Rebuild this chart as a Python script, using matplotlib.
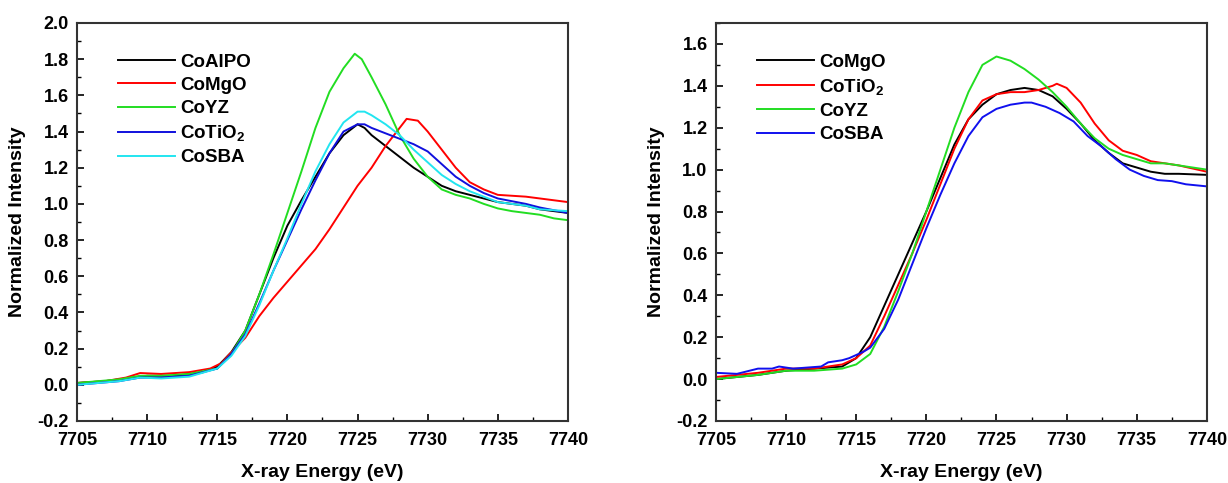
import matplotlib
matplotlib.use('Agg')
import matplotlib.pyplot as plt
from matplotlib.ticker import MultipleLocator

plt.rcParams['font.family'] = ['Liberation Sans', 'DejaVu Sans']
plt.rcParams['font.weight'] = 'bold'
plt.rcParams['mathtext.fontset'] = 'custom'
plt.rcParams['mathtext.rm'] = 'Liberation Sans:bold'
plt.rcParams['mathtext.bf'] = 'Liberation Sans:bold'
plt.rcParams['mathtext.it'] = 'Liberation Sans:bold'

# left panel data
x_alpo = [7705, 7707, 7709, 7710, 7712, 7714, 7715, 7716, 7717, 7718, 7719, 7720, 7721, 7722, 7723, 7724,
          7725, 7725.5, 7726, 7727, 7728, 7729, 7730, 7731, 7732, 7733, 7734, 7735, 7737, 7738, 7740]
y_alpo = [0.01, 0.02, 0.04, 0.05, 0.05, 0.07, 0.10, 0.18, 0.30, 0.50, 0.70, 0.88, 1.02, 1.15, 1.28, 1.38,
          1.44, 1.42, 1.38, 1.32, 1.26, 1.20, 1.15, 1.10, 1.07, 1.05, 1.03, 1.01, 0.99, 0.97, 0.95]

x_mgo = [7705, 7707, 7708.5, 7709.5, 7711, 7713, 7714.5, 7715.3, 7716, 7717, 7718, 7719, 7720, 7721, 7722,
         7723, 7724, 7725, 7726, 7727, 7728, 7728.5, 7729.3, 7730, 7731, 7732, 7733, 7734, 7735, 7737, 7738, 7740]
y_mgo = [0.01, 0.02, 0.04, 0.065, 0.06, 0.07, 0.09, 0.12, 0.18, 0.26, 0.38, 0.48, 0.57, 0.66, 0.75,
         0.86, 0.98, 1.10, 1.20, 1.32, 1.42, 1.47, 1.46, 1.40, 1.30, 1.20, 1.12, 1.08, 1.05, 1.04, 1.03, 1.01]

x_yz = [7705, 7708, 7709.5, 7711, 7713, 7715, 7716, 7717, 7718, 7719, 7720, 7721, 7722, 7723, 7724, 7724.8,
        7725.3, 7726, 7727, 7728, 7729, 7730, 7731, 7732, 7733, 7734, 7735, 7736, 7737, 7738, 7739, 7740]
y_yz = [0.01, 0.03, 0.05, 0.05, 0.06, 0.09, 0.17, 0.30, 0.50, 0.72, 0.95, 1.18, 1.42, 1.62, 1.75, 1.83,
        1.80, 1.70, 1.55, 1.38, 1.25, 1.15, 1.08, 1.05, 1.03, 1.00, 0.975, 0.96, 0.95, 0.94, 0.92, 0.91]

x_tio2 = [7705, 7708, 7709.5, 7711, 7713, 7715, 7716, 7717, 7718, 7719, 7720, 7721, 7722, 7723, 7724,
          7725, 7725.5, 7726, 7727, 7728, 7729, 7730, 7731, 7732, 7733, 7734, 7735, 7737, 7738, 7740]
y_tio2 = [0.00, 0.02, 0.04, 0.04, 0.05, 0.09, 0.17, 0.28, 0.45, 0.63, 0.80, 0.97, 1.13, 1.28, 1.40,
          1.44, 1.44, 1.42, 1.39, 1.36, 1.33, 1.29, 1.22, 1.15, 1.10, 1.06, 1.03, 1.00, 0.98, 0.95]

x_sba = [7705, 7708, 7709.5, 7711, 7713, 7715, 7716, 7717, 7718, 7719, 7720, 7721, 7722, 7723, 7724,
         7725, 7725.5, 7726, 7727, 7728, 7729, 7730, 7731, 7732, 7733, 7734, 7735, 7737, 7738, 7740]
y_sba = [0.00, 0.02, 0.04, 0.035, 0.045, 0.09, 0.16, 0.27, 0.44, 0.63, 0.81, 1.00, 1.18, 1.33, 1.45,
         1.51, 1.51, 1.49, 1.44, 1.38, 1.30, 1.23, 1.16, 1.11, 1.07, 1.04, 1.01, 0.99, 0.97, 0.96]

# right panel data
xr_mgo = [7705, 7708, 7710, 7712, 7714, 7715, 7716, 7717, 7718, 7719, 7720, 7721, 7722, 7723, 7724, 7725,
          7726, 7727, 7728, 7729, 7730, 7731, 7732, 7733, 7734, 7735, 7736, 7737, 7738, 7740]
yr_mgo = [0.00, 0.02, 0.04, 0.05, 0.06, 0.10, 0.20, 0.35, 0.50, 0.65, 0.80, 0.96, 1.12, 1.24, 1.31, 1.36,
          1.38, 1.39, 1.38, 1.35, 1.29, 1.22, 1.14, 1.08, 1.03, 1.01, 0.99, 0.98, 0.98, 0.975]

xr_tio2 = [7705, 7708, 7710, 7712, 7714, 7715, 7716, 7717, 7718, 7719, 7720, 7721, 7722, 7723, 7724, 7725,
           7726, 7727, 7728, 7729, 7729.3, 7730, 7731, 7732, 7733, 7734, 7735, 7736, 7737, 7738, 7740]
yr_tio2 = [0.01, 0.03, 0.05, 0.05, 0.07, 0.10, 0.16, 0.30, 0.45, 0.60, 0.76, 0.93, 1.10, 1.24, 1.33, 1.36,
           1.37, 1.37, 1.38, 1.40, 1.41, 1.39, 1.32, 1.22, 1.14, 1.09, 1.07, 1.04, 1.03, 1.02, 0.99]

xr_yz = [7705, 7708, 7710, 7712, 7714, 7715, 7716, 7717, 7718, 7719, 7720, 7721, 7722, 7723, 7724, 7725,
         7726, 7727, 7728, 7729, 7730, 7731, 7732, 7733, 7734, 7735, 7736, 7737, 7738, 7739, 7740]
yr_yz = [0.00, 0.02, 0.04, 0.04, 0.05, 0.07, 0.12, 0.25, 0.42, 0.60, 0.80, 1.00, 1.20, 1.37, 1.50, 1.54,
         1.52, 1.48, 1.43, 1.37, 1.30, 1.22, 1.15, 1.10, 1.07, 1.05, 1.03, 1.03, 1.02, 1.01, 1.00]

xr_sba = [7705, 7706.5, 7708, 7709, 7709.5, 7710.5, 7711.5, 7712.5, 7713, 7714, 7714.5, 7715.5, 7716,
          7717, 7718, 7719, 7720, 7721, 7722, 7723, 7724, 7725, 7725.5, 7726, 7727, 7727.5,
          7728.5, 7729.5, 7730.5, 7731.5, 7732.5, 7733.5, 7734.5, 7735.5, 7736.5, 7737.5, 7738.5, 7740]
yr_sba = [0.03, 0.025, 0.05, 0.05, 0.06, 0.05, 0.055, 0.06, 0.08, 0.09, 0.10, 0.13, 0.15,
          0.24, 0.38, 0.55, 0.72, 0.88, 1.03, 1.16, 1.25, 1.29, 1.30, 1.31, 1.32, 1.32,
          1.30, 1.27, 1.23, 1.16, 1.11, 1.05, 1.00, 0.97, 0.95, 0.945, 0.93, 0.92]

fig = plt.figure(figsize=(12.28, 4.83), dpi=100)
ax1 = fig.add_axes([0.0627, 0.1284, 0.3998, 0.824])
ax2 = fig.add_axes([0.583, 0.1284, 0.3998, 0.824])

lw = 1.4
ax1.plot(x_alpo, y_alpo, color='black', lw=lw, label='CoAlPO')
ax1.plot(x_mgo, y_mgo, color='#ff0000', lw=lw, label='CoMgO')
ax1.plot(x_yz, y_yz, color='#22dd22', lw=lw, label='CoYZ')
ax1.plot(x_tio2, y_tio2, color='#1010dd', lw=lw, label=r'CoTiO$_\mathrm{2}$')
ax1.plot(x_sba, y_sba, color='#22e5f0', lw=lw, label='CoSBA')

ax2.plot(xr_mgo, yr_mgo, color='black', lw=lw, label='CoMgO')
ax2.plot(xr_tio2, yr_tio2, color='#ff0000', lw=lw, label=r'CoTiO$_\mathrm{2}$')
ax2.plot(xr_yz, yr_yz, color='#22dd22', lw=lw, label='CoYZ')
ax2.plot(xr_sba, yr_sba, color='#1010ee', lw=lw, label='CoSBA')

for ax, ymax in [(ax1, 2.0), (ax2, 1.7)]:
    ax.set_xlim(7705, 7740)
    ax.set_ylim(-0.2, ymax)
    ax.xaxis.set_major_locator(MultipleLocator(5))
    ax.xaxis.set_minor_locator(MultipleLocator(2.5))
    ax.yaxis.set_minor_locator(MultipleLocator(0.1))
    ax.tick_params(which='major', direction='in', length=5, width=1.2, labelsize=13, pad=6)
    ax.tick_params(axis='x', which='major', pad=8)
    ax.tick_params(which='minor', direction='in', length=3, width=1.0)
    for sp in ax.spines.values():
        sp.set_linewidth(1.5)
        sp.set_color('#333333')
    ax.set_xlabel('X-ray Energy (eV)', fontsize=14, fontweight='bold', labelpad=11)
    ax.set_ylabel('Normalized Intensity', fontsize=14, fontweight='bold')
    ax.legend(loc='upper left', bbox_to_anchor=(0.05, 0.965), frameon=False, fontsize=13.5,
              handlelength=3.0, labelspacing=0.32, handletextpad=0.3)
    ax.yaxis.set_label_coords(-0.104, 0.5)

ax1.set_yticks([-0.2, 0.0, 0.2, 0.4, 0.6, 0.8, 1.0, 1.2, 1.4, 1.6, 1.8, 2.0])
ax1.set_yticklabels(['-0.2', '0.0', '0.2', '0.4', '0.6', '0.8', '1.0', '1.2', '1.4', '1.6', '1.8', '2.0'])
ax2.set_yticks([-0.2, 0.0, 0.2, 0.4, 0.6, 0.8, 1.0, 1.2, 1.4, 1.6])
ax2.set_yticklabels(['-0.2', '0.0', '0.2', '0.4', '0.6', '0.8', '1.0', '1.2', '1.4', '1.6'])

fig.savefig('out.png', dpi=100)
